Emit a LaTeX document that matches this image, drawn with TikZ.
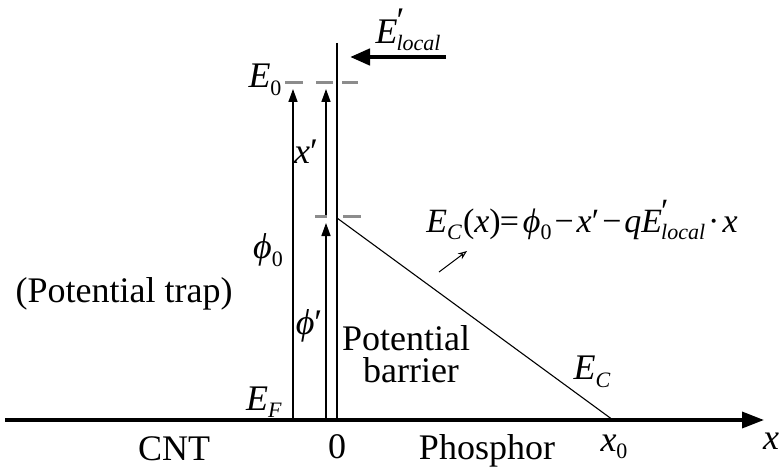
\documentclass[tikz,border=0pt]{standalone}
\usepackage{fontspec}
\setmainfont{Liberation Serif}[ItalicFont={Liberation Serif Italic}]
\usetikzlibrary{arrows.meta}
\newcommand{\sbs}[1]{\raisebox{-0.45ex}{\fontsize{22}{24}\selectfont #1}}
\newcommand{\iv}[1]{\textit{#1}}
\newcommand{\Eloc}{\iv{E}\kern-1pt\rlap{\raisebox{0.65ex}{′}}\sbs{\iv{local}}}
\begin{document}
\begin{tikzpicture}[x=1pt,y=-1pt,
  every node/.style={font=\fontsize{36}{40}\selectfont, inner sep=0pt},
  thin line/.style={line width=1.5pt, black},
  axis line/.style={line width=3.5pt, black},
  level dash/.style={line width=3pt, black!45},
  up arrow/.style={thin line, -{Triangle[length=13pt,width=9pt]}}]
\useasboundingbox (0,0) rectangle (781,468);
% coordinates
\coordinate (axL) at (5,420);
\coordinate (axR) at (764,420);
\coordinate (wallT) at (337,43);
\coordinate (wallB) at (337,420);
\coordinate (phiB) at (293,418);
\coordinate (phiT) at (293,89);
\coordinate (pB) at (326,418);
\coordinate (pM) at (326,223);
\coordinate (pM2) at (326,216);
\coordinate (pT) at (326,89);
\coordinate (slT) at (337,218);
\coordinate (slB) at (613,420);
\coordinate (elA) at (446,57);
\coordinate (elB) at (350,57);
\coordinate (saA) at (439,272);
\coordinate (saB) at (467,251);
% axis
\draw[axis line, -{Triangle[length=22pt,width=16pt]}] (axL) -- (axR);
% wall
\draw[thin line] (wallT) -- (wallB);
% arrows
\draw[up arrow] (phiB) -- (phiT);
\draw[up arrow] (pB) -- (pM);
\draw[up arrow] (pM2) -- (pT);
% dashes
\draw[level dash] (285,83) -- (303,83);
\draw[level dash] (316,83) -- (333,83);
\draw[level dash] (342,83) -- (358,83);
\draw[level dash] (315,216) -- (327,216);
\draw[level dash] (343,216) -- (361,216);
% slanted conduction band
\draw[line width=1.1pt] (slT) -- (slB);
% field arrow
\draw[line width=4.5pt, -{Triangle[length=20pt,width=16pt]}] (elA) -- (elB);
% small arrow
\draw[line width=1pt, -{Stealth[length=9pt,width=7pt,open]}] (saA) -- (saB);
% labels
\node (lEl) at (408,30) {\Eloc};
\node (lE0) at (265,80) {\iv{E}\sbs{0}};
\node (lxp) at (306,152) {\iv{x}′};
\node (lphi0) at (268,250) {\iv{ϕ}\sbs{0}};
\node (lphip) at (309,326) {\iv{ϕ}′};
\node (lEF) at (264,402) {\iv{E}\sbs{\iv{F}}};
\node (lzero) at (337,447) {0};
\node[anchor=base] (lbar1) at (406,350) {Potential};
\node[anchor=base] (lbar2) at (411,382) {barrier};
\node (ltrap) at (124,294) {(Potential trap)};
\node (lcnt) at (174,449) {CNT};
\node (lph) at (487,451) {Phosphor};
\node (lEC) at (592,372) {\iv{E}\sbs{\iv{C}}};
\node (lx0) at (614,447) {\iv{x}\sbs{0}};
\node (lx) at (771,441) {\iv{x}};
\node[font=\fontsize{34}{40}\selectfont] (leq) at (582,220) {\iv{E}\sbs{\iv{C}}\kern1pt(\iv{x})\kern-1pt=\kern4pt\iv{ϕ}\sbs{0}\kern3pt−\kern3pt\iv{x}′\kern3pt−\kern3pt\iv{q}\Eloc\kern3pt·\kern3pt\iv{x}};
\end{tikzpicture}
\end{document}
